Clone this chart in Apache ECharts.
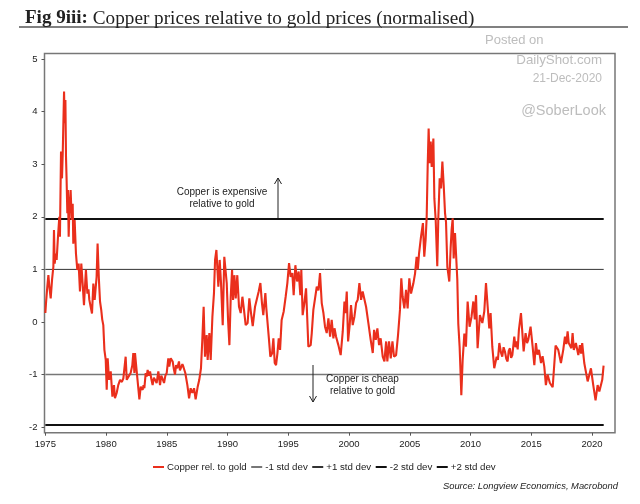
<!DOCTYPE html>
<html><head><meta charset="utf-8">
<style>html,body{margin:0;padding:0;background:#fff}#c{width:640px;height:504px}</style>
<script src="https://cdn.jsdelivr.net/npm/echarts@6/dist/echarts.min.js"></script>
</head><body><div id="c"></div>
<script>
const xTicks=[1975,1980,1985,1990,1995,2000,2005,2010,2015,2020];
const yTicks=[-2,-1,0,1,2,3,4,5];
const seriesNames=['Copper rel. to gold','-1 std dev','+1 std dev','-2 std dev','+2 std dev'];
const stdSpan=[1975,2020.96];
const minus1=-1, plus1=1, minus2=-1.96, plus2=1.96;
const copper70s=[[1975,.17],[1975.05,.35],[1975.16,.67],[1975.25,.89],[1975.33,.67],[1975.44,.45],[1975.55,.8],[1975.66,1.05],[1975.71,1.75],[1975.77,1.11],[1975.85,1.3],[1975.93,1.18],[1976.04,1.62],[1976.15,2],[1976.2,1.62],[1976.29,3.24],[1976.37,2.73],[1976.43,3.2],[1976.54,4.38],[1976.59,3.78],[1976.65,4.22],[1976.7,3.14],[1976.75,2.7],[1976.81,2.07],[1976.86,2.51],[1976.92,1.62],[1976.97,2.07],[1977.08,2.51],[1977.17,1.94],[1977.25,2.25],[1977.3,1.49],[1977.41,1.94],[1977.52,1.3],[1977.63,.99],[1977.74,1.11],[1977.85,.58],[1977.96,1.11],[1978.07,.73],[1978.18,.32],[1978.34,.99],[1978.46,.54],[1978.55,.62],[1978.62,.42],[1978.73,.29],[1978.84,.16],[1978.95,.73],[1979.06,.42],[1979.22,.86],[1979.3,1.49],[1979.41,.8],[1979.5,.39],[1979.6,.23],[1979.68,.05],[1979.77,-.06],[1979.86,-.53],[1979.97,-.72]];
const copper80s=[[1980.05,-1.29],[1980.13,-.69],[1980.24,-1.1],[1980.38,-.94],[1980.52,-1.42],[1980.65,-1.2],[1980.73,-1.45],[1980.87,-1.35],[1981,-1.2],[1981.15,-1.1],[1981.3,-1.14],[1981.42,-1.07],[1981.55,-1.1],[1981.61,-.66],[1981.7,-1.1],[1981.83,-1.07],[1982.02,-.97],[1982.16,-.82],[1982.24,-.59],[1982.33,-.97],[1982.38,-.59],[1982.52,-.94],[1982.63,-.97],[1982.74,-1.47],[1982.85,-1.23],[1983.01,-1.29],[1983.08,-1.2],[1983.15,-1.26],[1983.26,-.97],[1983.34,-1.04],[1983.42,-.91],[1983.52,-1.02],[1983.62,-.94],[1983.72,-1.08],[1983.83,-1.2],[1983.93,-1.06],[1984.03,-1.1],[1984.16,-1.16],[1984.3,-.94],[1984.44,-1.2],[1984.54,-1.02],[1984.63,-1.07],[1984.77,-1.16],[1984.88,-1.02],[1984.99,-.97],[1985.12,-.69],[1985.2,-.85],[1985.32,-.69],[1985.48,-.75],[1985.58,-.9],[1985.67,-1],[1985.76,-.82],[1985.86,-.88],[1986,-.75],[1986.08,-.92],[1986.17,-.91],[1986.28,-.8],[1986.36,-.85],[1986.52,-.97],[1986.69,-1.2],[1986.83,-1.45],[1986.96,-1.26],[1987.1,-1.35],[1987.24,-1.26],[1987.37,-1.47],[1987.54,-1.23],[1987.67,-1.1],[1987.81,-.88],[1987.92,-.34],[1988.03,.29],[1988.14,-.66],[1988.28,-.25],[1988.36,-.72],[1988.5,-.21],[1988.61,-.72],[1988.75,.1],[1988.88,.55],[1988.97,1.18],[1989.08,1.37],[1989.19,1.37],[1989.24,.67],[1989.35,1.18],[1989.46,.74],[1989.6,-.06],[1989.73,1.24],[1989.79,1.27],[1989.93,.74]];
const copper90s=[[1990.04,.04],[1990.15,-.44],[1990.26,.48],[1990.37,.99],[1990.45,.42],[1990.56,.89],[1990.67,.45],[1990.8,.89],[1990.94,.29],[1991.08,.17],[1991.22,.48],[1991.35,.23],[1991.49,-.06],[1991.65,-.02],[1991.79,.45],[1991.93,.17],[1992.07,-.08],[1992.26,.29],[1992.42,.32],[1992.56,.58],[1992.7,.74],[1992.83,.36],[1992.94,.13],[1993.11,.55],[1993.19,.26],[1993.3,.23],[1993.41,-.34],[1993.52,-.66],[1993.66,-.6],[1993.77,-.31],[1993.88,-.78],[1993.99,-.82],[1994.1,-.6],[1994.21,-.31],[1994.32,-.53],[1994.45,.04],[1994.62,.2],[1994.78,.48],[1994.92,.74],[1995.06,1.12],[1995.19,.86],[1995.33,.93],[1995.44,.51],[1995.58,1.08],[1995.72,.77],[1995.85,.96],[1995.99,.51],[1996.07,.99],[1996.18,.13],[1996.32,.36],[1996.46,.64],[1996.65,-.47],[1996.84,-.44],[1996.93,-.21],[1997.06,.23],[1997.2,.45],[1997.34,.67],[1997.48,.6],[1997.61,.93],[1997.75,.36],[1997.89,.17],[1998.02,-.09],[1998.16,-.21],[1998.3,.07],[1998.44,-.28],[1998.57,.04],[1998.71,-.31],[1998.8,-.12],[1998.93,-.28],[1999.12,-.44],[1999.31,-.63],[1999.48,-.18],[1999.62,.39],[1999.7,.17],[1999.81,.58],[1999.92,-.37]];
const copper00s=[[2000.05,-.06],[2000.16,.32],[2000.3,-.06],[2000.44,.1],[2000.58,.36],[2000.71,.42],[2000.85,.74],[2000.99,.42],[2001.12,.58],[2001.26,.55],[2001.4,.29],[2001.59,-.02],[2001.78,-.34],[2001.95,-.59],[2002.06,-.15],[2002.2,-.34],[2002.33,-.12],[2002.47,-.44],[2002.6,-.31],[2002.77,-.66],[2002.91,-.75],[2003.05,-.37],[2003.15,-.75],[2003.29,-.37],[2003.43,-.69],[2003.57,-.37],[2003.7,-.66],[2003.87,-.63],[2004.03,-.25],[2004.19,.23],[2004.3,.83],[2004.41,.48],[2004.55,.26],[2004.69,.61],[2004.82,.26],[2004.96,.83],[2005.1,.54],[2005.29,.73],[2005.43,.92],[2005.56,1.24],[2005.66,1],[2005.76,1.3],[2005.92,1.62],[2006.08,1.88],[2006.19,1.24],[2006.3,1.56],[2006.39,2],[2006.47,2.95],[2006.55,3.68],[2006.63,3.02],[2006.72,3.43],[2006.8,2.95],[2006.94,3.49],[2007.02,2.35],[2007.13,1.94],[2007.26,1.06],[2007.35,2],[2007.46,2.73],[2007.57,2.54],[2007.68,3.05],[2007.79,2.6],[2007.9,2.07],[2007.98,1.9],[2008.09,1.05],[2008.25,.77],[2008.36,1.4],[2008.44,1.75],[2008.53,1.97],[2008.61,1.21],[2008.72,1.69],[2008.83,1.18],[2008.91,.8],[2008.99,-.03],[2009.1,-.47],[2009.18,-.98],[2009.24,-1.39],[2009.35,-.72],[2009.49,-.22],[2009.62,-.47],[2009.76,.39],[2009.92,-.09]];
const copper10s=[[2010.08,.1],[2010.23,.39],[2010.35,.05],[2010.45,.51],[2010.58,-.5],[2010.77,.13],[2010.97,-.02],[2011.13,.2],[2011.27,.74],[2011.41,.29],[2011.54,-.12],[2011.65,.17],[2011.79,-.47],[2011.95,-.88],[2012.15,-.66],[2012.25,-.72],[2012.37,-.4],[2012.5,-.58],[2012.61,-.66],[2012.72,-.48],[2012.83,-.56],[2012.94,-.7],[2013.05,-.75],[2013.14,-.55],[2013.24,-.5],[2013.34,-.68],[2013.44,-.63],[2013.6,-.28],[2013.7,-.48],[2013.79,-.37],[2013.88,-.52],[2013.98,-.15],[2014.15,.17],[2014.37,-.56],[2014.53,-.21],[2014.65,-.4],[2014.75,-.34],[2014.84,-.22],[2014.94,-.09],[2015.11,-.47],[2015.25,-.82],[2015.38,-.4],[2015.5,-.62],[2015.63,-.53],[2015.8,-.78],[2015.93,-.65],[2016.07,-.85],[2016.2,-1.2],[2016.34,-1],[2016.53,-1.16],[2016.76,-1.24],[2017,-.45],[2017.22,-.53],[2017.44,-.78],[2017.63,-.53],[2017.77,-.28],[2017.88,-.42],[2017.99,-.18],[2018.08,-.4],[2018.18,-.37],[2018.3,-.5],[2018.4,-.21],[2018.5,-.53],[2018.67,-.4],[2018.87,-.63],[2019.0,-.44],[2019.1,-.6],[2019.19,-.4],[2019.36,-.78],[2019.64,-1.13],[2019.91,-.88]];
const copper20s=[[2020.1,-1.2],[2020.29,-1.49],[2020.46,-1.2],[2020.6,-1.32],[2020.84,-1.1],[2020.95,-.83]];
const copper=[...copper70s,...copper80s,...copper90s,...copper00s,...copper10s,...copper20s];
const flat=v=>stdSpan.map(x=>[x,v]);
const font='"Liberation Sans",Arial,sans-serif';
const chart=echarts.init(document.getElementById('c'),null,{renderer:'canvas'});
const lineS=(name,data,color,width,z)=>({name,type:'line',data,showSymbol:false,symbol:'none',z,animation:false,lineStyle:{color,width},itemStyle:{color},emphasis:{disabled:true}});
const wm=(text,x,y,size,align)=>({type:'text',x,y,silent:true,z:50,style:{text,fill:'#bdbdbd',font:size+'px '+font,align:align,verticalAlign:'middle'}});
const note=(text,x,y)=>({type:'text',x,y,silent:true,z:40,style:{text,fill:'#222',font:'10px '+font,align:'center',verticalAlign:'middle',lineHeight:11.5}});
const arrow=(x,y1,y2,dir)=>[
 {type:'line',silent:true,z:40,shape:{x1:x,y1:y1,x2:x,y2:y2},style:{stroke:'#222',lineWidth:1}},
 {type:'polyline',silent:true,z:40,shape:{points:[[x-3.5,y2+dir*6],[x,y2],[x+3.5,y2+dir*6]]},style:{stroke:'#222',lineWidth:1,fill:'none'}}];
chart.setOption({
 backgroundColor:'#fff',animation:false,
 title:{show:true,text:'{b|Fig 9iii:} {r|Copper prices relative to gold prices (normalised)}',left:20,top:4,textStyle:{fontWeight:'normal',rich:{b:{fontFamily:'"Liberation Serif",serif',fontWeight:'bold',fontSize:19,color:'#222'},r:{fontFamily:'"Liberation Serif",serif',fontWeight:'normal',fontSize:19.2,color:'#222'}}}},
 grid:{left:44.5,right:25,top:53.5,height:379.2,show:true,borderColor:'#777',borderWidth:1.5,backgroundColor:'#fff'},
 xAxis:{type:'value',min:1974.93,max:2021.89,splitLine:{show:false},axisLine:{show:false,onZero:false},
  axisTick:{show:true,length:3,lineStyle:{color:'#555'},customValues:xTicks},
  axisLabel:{color:'#222',fontFamily:font,fontSize:9.5,margin:7,customValues:xTicks,formatter:v=>String(v)}},
 yAxis:{type:'value',min:-2.105,max:5.105,splitLine:{show:false},axisLine:{show:false,onZero:false},
  axisTick:{show:true,length:3,lineStyle:{color:'#555'},customValues:yTicks},
  axisLabel:{color:'#222',fontFamily:font,fontSize:9.5,margin:7,customValues:yTicks,formatter:v=>String(v)}},
 legend:{left:153,top:462,itemWidth:11,itemHeight:2,itemGap:4.5,padding:0,selectedMode:false,textStyle:{color:'#222',fontFamily:font,fontSize:9.7,padding:[0,0,0,-2]},data:seriesNames.map(name=>({name,icon:'rect'}))},
 series:[
  lineS(seriesNames[0],copper,'#ea2f1c',2.1,10),
  lineS(seriesNames[1],flat(minus1),'#777',1.5,5),
  lineS(seriesNames[2],flat(plus1),'#333',1,5),
  lineS(seriesNames[3],flat(minus2),'#111',2,5),
  lineS(seriesNames[4],flat(plus2),'#111',2,5)
 ],
 graphic:[
  {type:'line',silent:true,shape:{x1:19,y1:27,x2:628,y2:27},style:{stroke:'#808080',lineWidth:2}},
  wm('Posted on',485,40,13,'left'),wm('DailyShot.com',602,60,13.3,'right'),wm('21-Dec-2020',602,79,12,'right'),wm('@SoberLook',606,111,14.5,'right'),
  note('Copper is expensive\nrelative to gold',222,198),
  note('Copper is cheap\nrelative to gold',362.5,385),
  ...arrow(278,218,178,1),...arrow(313,365,402,-1),
  {type:'text',x:618,y:486,silent:true,style:{text:'Source: Longview Economics, Macrobond',fill:'#222',font:'italic 9.4px '+font,align:'right',verticalAlign:'middle'}}
 ]
});
</script></body></html>
